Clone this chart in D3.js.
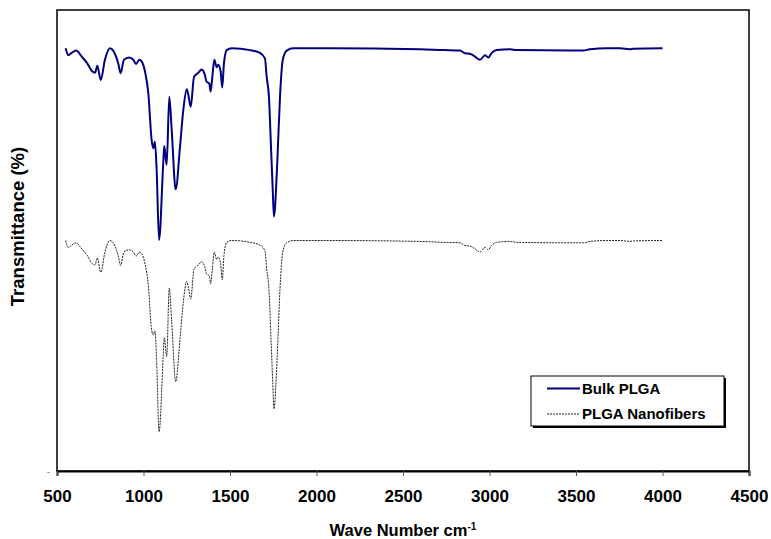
<!DOCTYPE html>
<html>
<head>
<meta charset="utf-8">
<script src="https://cdn.jsdelivr.net/npm/d3@7"></script>
<style>
  body { margin: 0; background: #fff; }
  svg { font-family: "Liberation Sans", Arial, sans-serif; }
</style>
</head>
<body>
<div id="chart"></div>
<script>
// wave numbers (cm-1) shared by both spectra
const waveNumbers = [550, 565, 585, 610, 643, 672, 706, 720, 733, 753,
  777, 806, 825, 845, 854, 868, 887, 918, 941, 957,
  976, 990, 1009, 1028, 1047, 1057, 1066, 1076, 1090, 1114,
  1120, 1134, 1149, 1163, 1186, 1211, 1230, 1250, 1259, 1273,
  1292, 1317, 1336, 1355, 1365, 1380, 1388, 1398, 1409, 1423,
  1432, 1446, 1455, 1465, 1481, 1510, 1616, 1673, 1702, 1712,
  1725, 1737, 1747, 1754, 1773, 1789, 1805, 1828, 1866, 2068,
  2598, 2733, 2830, 2858, 2887, 2916, 2945, 2974, 2993, 3013,
  3042, 3119, 3157, 3465, 3542, 3581, 3678, 3754, 3812, 3831, 4000];

const bulkPLGA = [91.7, 90.2, 90.7, 91.2, 89.9, 88.6, 86.6, 86.4, 87.9, 84.8,
  89.2, 91.7, 91.2, 89.5, 88.4, 86.3, 89.2, 89.7, 89.2, 88.3,
  89.2, 88.8, 86.6, 81.9, 71.8, 70.0, 71.4, 65.3, 50.1, 66.7,
  70.5, 66.4, 81.2, 74.0, 61.1, 70.3, 78.3, 82.8, 81.6, 79.0,
  85.5, 86.4, 87.1, 85.9, 84.4, 84.1, 82.3, 85.5, 89.2, 87.6,
  88.1, 86.6, 83.2, 88.4, 91.3, 91.7, 91.3, 90.7, 89.5, 85.5,
  81.2, 70.3, 61.0, 55.2, 66.7, 81.2, 89.2, 91.2, 91.7, 91.7,
  91.5, 91.3, 91.2, 90.6, 90.5, 89.9, 89.2, 90.2, 89.7, 90.7,
  91.3, 91.5, 91.3, 91.2, 91.2, 91.5, 91.7, 91.7, 91.5, 91.6, 91.7];

const plgaNanofibers = [50.0, 48.5, 49.0, 49.5, 48.2, 46.9, 44.9, 44.7, 46.2, 43.1,
  47.5, 50.0, 49.5, 47.8, 46.7, 44.6, 47.5, 48.0, 47.5, 46.6,
  47.5, 47.1, 44.9, 40.2, 30.6, 29.5, 30.4, 23.8, 8.5, 25.0,
  28.9, 24.8, 39.7, 32.4, 19.4, 28.6, 36.6, 41.1, 39.9, 37.3,
  43.8, 44.7, 45.4, 44.2, 42.7, 42.4, 40.6, 43.8, 47.5, 45.9,
  46.4, 44.9, 41.5, 46.7, 49.6, 50.0, 49.6, 49.0, 47.8, 43.8,
  39.5, 28.6, 19.3, 13.5, 25.0, 39.5, 47.5, 49.5, 50.0, 50.0,
  49.8, 49.6, 49.5, 48.9, 48.8, 48.2, 47.5, 48.5, 48.0, 49.0,
  49.6, 49.8, 49.6, 49.5, 49.5, 49.8, 50.0, 50.0, 49.8, 49.9, 50.0];

const xTicks = [500, 1000, 1500, 2000, 2500, 3000, 3500, 4000, 4500];
const seriesNames = ['Bulk PLGA', 'PLGA Nanofibers'];

const width = 771;
const height = 539;
const margin = {top: 10, right: 22, bottom: 68, left: 57};

const svg = d3.select('#chart')
    .append('svg')
    .attr('width', width)
    .attr('height', height);

const x = d3.scaleLinear()
    .domain([500, 4500])
    .range([margin.left, width - margin.right]);

const y = d3.scaleLinear()
    .domain([0, 100])
    .range([height - margin.bottom, margin.top]);

// frame
svg.append('rect')
    .attr('x', margin.left)
    .attr('y', margin.top)
    .attr('width', x(4500) - x(500))
    .attr('height', y(0) - y(100))
    .attr('fill', 'none')
    .attr('stroke', '#000')
    .attr('stroke-width', 1.5);

// x axis
const xAxis = svg.append('g')
    .attr('transform', `translate(0, ${y(0)})`)
    .call(d3.axisBottom(x).tickValues(xTicks).tickSize(5).tickPadding(14).tickFormat(d3.format('d')));
xAxis.select('.domain').attr('stroke', '#000').attr('stroke-width', 2);
xAxis.selectAll('.tick line').attr('stroke', '#555');
xAxis.selectAll('text')
    .attr('fill', '#000')
    .style('font-size', '17px')
    .style('font-weight', 'bold');

// y axis: only a stray dash at zero
const yAxis = svg.append('g')
    .attr('transform', `translate(${margin.left}, 0)`)
    .call(d3.axisLeft(y).tickValues([0]).tickSize(0).tickPadding(7).tickFormat(() => '-'));
yAxis.select('.domain').remove();
yAxis.selectAll('text')
    .attr('fill', '#888')
    .style('font-size', '10px');

// axis titles
const xTitle = svg.append('text')
    .attr('x', (x(500) + x(4500)) / 2)
    .attr('y', 536)
    .attr('text-anchor', 'middle')
    .style('font-size', '16.5px')
    .style('font-weight', 'bold');
xTitle.append('tspan').text('Wave Number cm');
xTitle.append('tspan').attr('dy', -6).style('font-size', '10px').text('-1');

svg.append('text')
    .attr('transform', `translate(24, ${(y(0) + y(100)) / 2 - 14}) rotate(-90)`)
    .attr('text-anchor', 'middle')
    .style('font-size', '18.5px')
    .style('font-weight', 'bold')
    .text('Transmittance (%)');

// spectra
const line = d3.line()
    .x((d, i) => x(waveNumbers[i]))
    .y(d => y(d))
    .curve(d3.curveMonotoneX);

svg.append('path')
    .datum(plgaNanofibers)
    .attr('d', line)
    .attr('fill', 'none')
    .attr('stroke', '#222')
    .attr('stroke-width', 1)
    .attr('stroke-dasharray', '2,1');

svg.append('path')
    .datum(bulkPLGA)
    .attr('d', line)
    .attr('fill', 'none')
    .attr('stroke', '#000080')
    .attr('stroke-width', 2)
    .attr('stroke-linejoin', 'round');

// legend
const legend = svg.append('g');
legend.append('rect')
    .attr('x', 533).attr('y', 378)
    .attr('width', 193).attr('height', 50)
    .attr('fill', '#000');
legend.append('rect')
    .attr('x', 531).attr('y', 376)
    .attr('width', 193).attr('height', 50)
    .attr('fill', '#fff')
    .attr('stroke', '#000')
    .attr('stroke-width', 1);

const legendStyles = [
  {stroke: '#000080', width: 2, dash: null},
  {stroke: '#222', width: 1, dash: '2,1'}
];

seriesNames.forEach((name, i) => {
  const ly = 388.5 + i * 25.5;
  legend.append('line')
      .attr('x1', 547).attr('x2', 580)
      .attr('y1', ly).attr('y2', ly)
      .attr('stroke', legendStyles[i].stroke)
      .attr('stroke-width', legendStyles[i].width)
      .attr('stroke-dasharray', legendStyles[i].dash);
  legend.append('text')
      .attr('x', 582)
      .attr('y', ly + 5)
      .style('font-size', '15px')
      .style('font-weight', 'bold')
      .text(name);
});
</script>
</body>
</html>
